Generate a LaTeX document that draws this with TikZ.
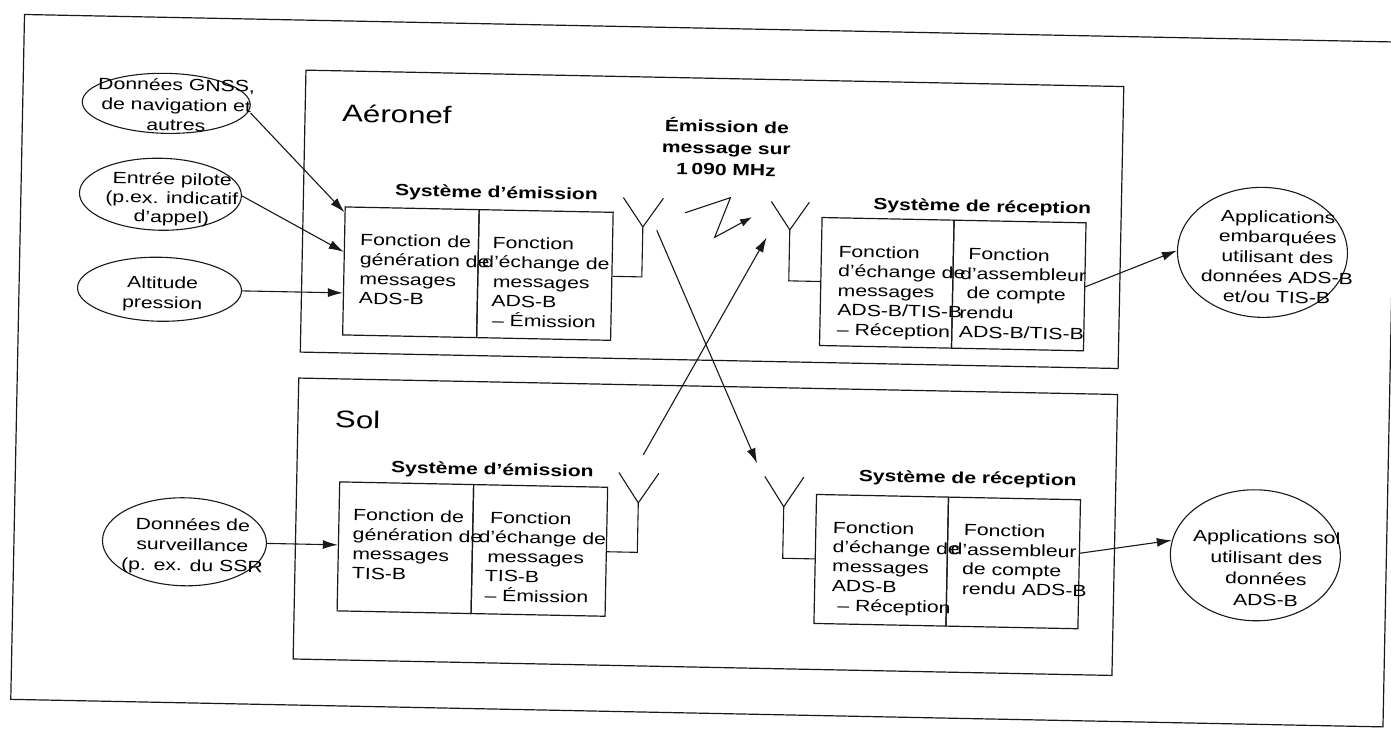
\documentclass[tikz,border=0pt]{standalone}
\usepackage{fontspec}
\setmainfont{Liberation Sans}[FakeStretch=1.3]
\usetikzlibrary{arrows.meta,shapes.geometric}
\newcommand{\fs}{\rule{0pt}{14pt}}
\newcommand{\fsb}{\rule{0pt}{16pt}}
\begin{document}
\begin{tikzpicture}[x=1pt,y=-1pt,
  framebox/.style={draw=black!90, line width=1.2pt, inner sep=0pt},
  cellA/.style={framebox, minimum width=134pt, minimum height=128pt},
  cellR/.style={framebox, minimum width=132pt, minimum height=128pt},
  cellS/.style={framebox, minimum width=134pt, minimum height=129pt},
  cellSR/.style={framebox, minimum width=132pt, minimum height=129pt},
  celltxt/.style={anchor=north west, inner sep=0pt, align=left, text=black,
    font=\fontsize{16.3}{19.5}\selectfont},
  elltxt/.style={anchor=north, inner sep=0pt, align=center, text=black,
    font=\fontsize{16.3}{#1}\selectfont},
  oval/.style={draw=black!90, ellipse, line width=1.1pt, inner sep=0pt},
  lab/.style={inner sep=0pt, text=black, font=\fontsize{16.2}{21.5}\selectfont\bfseries},
  big/.style={inner sep=0pt, anchor=base west, text=black, font=\fontsize{24}{28}\selectfont},
  wire/.style={draw=black!90, line width=1.1pt},
  arr/.style={wire, -{Latex[length=15pt,width=9pt]}},
  zarr/.style={wire, -{Latex[length=12pt,width=8pt]}}
]
\useasboundingbox (0,0) rectangle (1391,737);
\fill[white] (0,0) rectangle (1391,737);
\begin{scope}[rotate around={-1.15:(695,370)}, transform shape]
% frames
\node[framebox, minimum width=1372.5pt, minimum height=685pt] (outer) at (703.75,370.5) {};
\node[framebox, minimum width=818pt, minimum height=282pt] (aero) at (709,219) {};
\node[framebox, minimum width=819pt, minimum height=281pt] (sol) at (708.5,526.5) {};
\node[big] (tAero) at (337,129) {Aéronef};
\node[big] (tSol) at (336,435) {Sol};
\node[lab, align=center, anchor=north] (emis) at (722,115.5) {\fsb Émission de\\message sur\\1\hspace{3.5pt}090 MHz};

% Aeronef emission system
\node[lab, anchor=base] (lTA) at (493,202) {Système d’émission};
\node[cellA] (txAl) at (409,278) {};
\node[cellA] (txAr) at (543,278) {};
\node[celltxt] (txAlt) at (357.5,238) {\fs Fonction de\\génération de\\messages\\ADS-B};
\node[celltxt] (txArt) at (480,238) {\fs\hspace*{10pt}Fonction\\d’échange de\\\hspace*{11pt}messages\\\hspace*{10pt}ADS-B\\\hspace*{11pt}– Émission};

% Aeronef reception system
\node[lab, anchor=base] (lRA) at (979,206) {Système de réception};
\node[cellR] (rxAl) at (885,279) {};
\node[cellR] (rxAr) at (1017,279) {};
\node[celltxt] (rxAlt) at (836,240) {\fs Fonction\\d’échange de\\messages\\ADS-B/TIS-B\\– Réception};
\node[celltxt] (rxArt) at (955,240) {\fs\hspace*{11pt}Fonction\\\hspace*{3pt}d’assembleur\\\hspace*{10pt}de compte\\\hspace*{3pt}rendu\\\hspace*{3pt}ADS-B/TIS-B};

% Sol emission system
\node[lab, anchor=base] (lTS) at (494.5,479) {Système d’émission};
\node[cellS] (txSl) at (409,553.5) {};
\node[cellS] (txSr) at (543,553.5) {};
\node[celltxt] (txSlt) at (356,513) {\fs Fonction de\\génération de\\messages\\TIS-B};
\node[celltxt] (txSrt) at (482,513) {\fs\hspace*{11pt}Fonction\\d’échange de\\\hspace*{9pt}messages\\\hspace*{7pt}TIS-B\\\hspace*{7pt}– Émission};

% Sol reception system
\node[lab, anchor=base] (lRS) at (970,478) {Système de réception};
\node[cellSR] (rxSl) at (885,556.5) {};
\node[cellSR] (rxSr) at (1017,556.5) {};
\node[celltxt] (rxSlt) at (836,516) {\fs Fonction\\d’échange de\\messages\\ADS-B\\\hspace*{6pt}– Réception};
\node[celltxt] (rxSrt) at (954,516) {\fs\hspace*{13pt}Fonction\\d’assembleur\\\hspace*{12pt}de compte\\\hspace*{12pt}rendu ADS-B};

% input ellipses
\node[oval, minimum width=168pt, minimum height=60pt] (gnss) at (161,114) {};
\node[elltxt=20] (gnssT) at (171,87) {\fs Données GNSS,\\de navigation et\\autres};
\node[oval, minimum width=162pt, minimum height=72pt] (entree) at (157,205) {};
\node[elltxt=19] (entreeT) at (168.5,181) {\fs Entrée pilote\\(p.ex. indicatif\\d’appel)};
\node[oval, minimum width=164pt, minimum height=64pt] (alt) at (158,300) {};
\node[elltxt=20] (altT) at (161,285) {\fs Altitude\\pression};
\node[oval, minimum width=164pt, minimum height=88pt] (surv) at (188,552) {};
\node[elltxt=20.5] (survT) at (196,526) {\fs Données de\\surveillance\\(p. ex. du SSR};

% output ellipses
\node[oval, minimum width=170pt, minimum height=130pt] (appA) at (1260,241) {};
\node[elltxt=20] (appAT) at (1275,197) {\fs Applications\\embarquées\\utilisant des\\données ADS-B\\et/ou TIS-B};
\node[oval, minimum width=170pt, minimum height=131pt] (appS) at (1259,544) {};
\node[elltxt=21] (appST) at (1270,517) {\fs Applications sol\\utilisant des\\données\\ADS-B};

% antennas
\coordinate (antTA) at (640,228);
\coordinate (antTAl) at (620,199);
\coordinate (antTAr) at (660,199);
\coordinate (antRA) at (787,228);
\coordinate (antRAl) at (768,200);
\coordinate (antRAr) at (806,200);
\coordinate (antTS) at (641,504);
\coordinate (antTSl) at (621,474);
\coordinate (antTSr) at (661,474);
\coordinate (antRS) at (786.5,505);
\coordinate (antRSl) at (767,475);
\coordinate (antRSr) at (806,475);
\draw[wire] (antTAl) -- (antTA) -- (antTAr);
\draw[wire] (antRAl) -- (antRA) -- (antRAr);
\draw[wire] (antTSl) -- (antTS) -- (antTSr);
\draw[wire] (antRSl) -- (antRS) -- (antRSr);
\draw[wire] (txAr.east) -| (antTA);
\draw[wire] (rxAl.west) -| (antRA);
\draw[wire] (txSr.east) -| (antTS);
\draw[wire] (rxSl.west) -| (antRS);

% radio link
\coordinate (z1) at (682,213);
\coordinate (z2) at (727,197);
\coordinate (z3) at (712,237);
\coordinate (z4) at (749,216);
\draw[zarr] (z1) -- (z2) -- (z3) -- (z4);
\coordinate (x1s) at (654,231);
\coordinate (x1e) at (759,462);
\coordinate (x2s) at (645,456);
\coordinate (x2e) at (764,236);
\draw[arr] (x1s) -- (x1e);
\draw[arr] (x2s) -- (x2e);

% input / output arrows
\draw[arr] ([yshift=-8pt]gnss.east) -- ([yshift=-6pt]txAl.north west);
\draw[arr] (entree.east) -- ([yshift=19pt]txAl.west);
\draw[arr] (alt.east) -- (alt.east -| txAl.west);
\draw[arr] (surv.east) -- (surv.east -| txSl.west);
\draw[arr] (rxAr.east) -- (appA.west);
\draw[arr] ([yshift=11pt]rxSr.east) -- (appS.171);
\end{scope}
\end{tikzpicture}
\end{document}
